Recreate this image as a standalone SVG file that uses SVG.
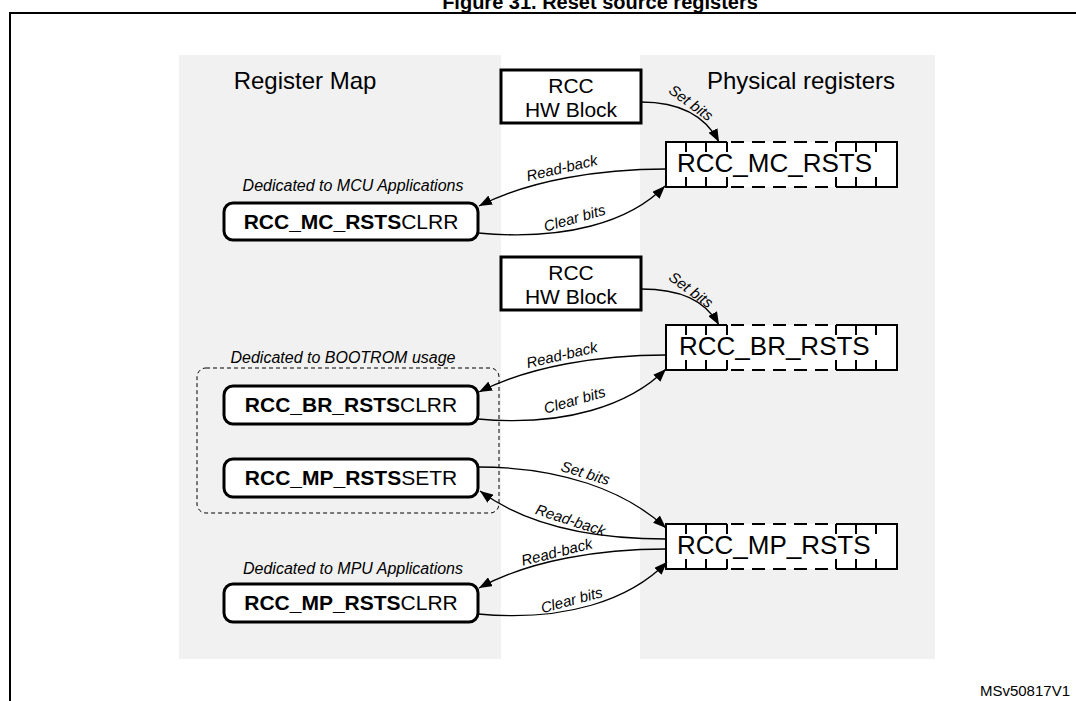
<svg xmlns="http://www.w3.org/2000/svg" width="1076" height="701" viewBox="0 0 1076 701">
<defs>
<style>
text{font-family:"Liberation Sans",Arial,Helvetica,sans-serif;fill:#000}
.panel{fill:#f1f1f1}
.hw{fill:#fff;stroke:#000;stroke-width:3}
.rb{fill:#fff;stroke:#000;stroke-width:3}
.reg{fill:#fff;stroke:none}
.regl{fill:none;stroke:#000;stroke-width:2}
.regd{fill:none;stroke:#000;stroke-width:2;stroke-dasharray:13 8}
.con{fill:none;stroke:#000;stroke-width:1.3;marker-end:url(#ah)}
.lbl{font-size:15px;font-style:italic;text-anchor:middle}
.ded{font-size:16px;font-style:italic;text-anchor:middle}
.hwt{font-size:21px;text-anchor:middle}
.regt{font-size:26px}
.rbt{font-size:21px;text-anchor:middle}
.hdr{font-size:24px;text-anchor:middle}
</style>
<marker id="ah" markerUnits="userSpaceOnUse" markerWidth="13" markerHeight="10" refX="13" refY="5" orient="auto">
<path d="M0,0 L13,5 L0,10 z" fill="#000"/>
</marker>
</defs>
<rect width="1076" height="701" fill="#fff"/>
<text x="600" y="9" font-size="20" font-weight="bold" text-anchor="middle">Figure 31. Reset source registers</text>
<path d="M10,701 V13 H1076" fill="none" stroke="#000" stroke-width="2"/>
<rect class="panel" x="179" y="55" width="322" height="604"/>
<rect class="panel" x="640" y="55" width="295" height="604"/>
<text class="hdr" x="305" y="89">Register Map</text>
<text class="hdr" x="801" y="89" font-size="25">Physical registers</text>

<g id="hw1">
<rect class="hw" x="501" y="70" width="140" height="53"/>
<text class="hwt" x="571" y="93">RCC</text>
<text class="hwt" x="571" y="117">HW Block</text>
</g>
<g id="hw2">
<rect class="hw" x="501" y="257" width="140" height="53"/>
<text class="hwt" x="571" y="280">RCC</text>
<text class="hwt" x="571" y="304">HW Block</text>
</g>

<g id="reg-mc">
<rect class="reg" x="666" y="142" width="231" height="45"/>
<path class="regl" d="M727,142 H666 V187 H727 M836,142 H897 V187 H836 M686,142 v10 M706,142 v10 M727,142 v10 M836,142 v10 M856,142 v10 M876,142 v10 M686,187 v-10 M706,187 v-10 M727,187 v-10 M836,187 v-10 M856,187 v-10 M876,187 v-10"/>
<path class="regd" d="M731,142 H836 M731,187 H836"/>
<text class="regt" x="677" y="172">RCC_MC_RSTS</text>
</g>
<g id="reg-br">
<rect class="reg" x="666" y="325" width="231" height="45"/>
<path class="regl" d="M727,325 H666 V370 H727 M836,325 H897 V370 H836 M686,325 v10 M706,325 v10 M727,325 v10 M836,325 v10 M856,325 v10 M876,325 v10 M686,370 v-10 M706,370 v-10 M727,370 v-10 M836,370 v-10 M856,370 v-10 M876,370 v-10"/>
<path class="regd" d="M731,325 H836 M731,370 H836"/>
<text class="regt" x="679" y="355">RCC_BR_RSTS</text>
</g>
<g id="reg-mp">
<rect class="reg" x="666" y="524" width="231" height="45"/>
<path class="regl" d="M727,524 H666 V569 H727 M836,524 H897 V569 H836 M686,524 v10 M706,524 v10 M727,524 v10 M836,524 v10 M856,524 v10 M876,524 v10 M686,569 v-10 M706,569 v-10 M727,569 v-10 M836,569 v-10 M856,569 v-10 M876,569 v-10"/>
<path class="regd" d="M731,524 H836 M731,569 H836"/>
<text class="regt" x="677" y="554">RCC_MP_RSTS</text>
</g>

<g id="bootrom-group">
<rect x="197" y="368" width="302" height="145" rx="9" fill="none" stroke="#000" stroke-width="1" stroke-dasharray="4 3"/>
<text class="ded" x="343" y="363">Dedicated to BOOTROM usage</text>
</g>

<g id="mc-clrr">
<text class="ded" x="353" y="191">Dedicated to MCU Applications</text>
<rect class="rb" x="224" y="203" width="254" height="37" rx="9"/>
<text class="rbt" x="351" y="229"><tspan font-weight="bold">RCC_MC_RSTS</tspan>CLRR</text>
</g>
<g id="br-clrr">
<rect class="rb" x="224" y="386" width="254" height="38" rx="9"/>
<text class="rbt" x="351" y="412"><tspan font-weight="bold">RCC_BR_RSTS</tspan>CLRR</text>
</g>
<g id="mp-setr">
<rect class="rb" x="224" y="459" width="254" height="38" rx="9"/>
<text class="rbt" x="351" y="485"><tspan font-weight="bold">RCC_MP_RSTS</tspan>SETR</text>
</g>
<g id="mp-clrr">
<text class="ded" x="353" y="574">Dedicated to MPU Applications</text>
<rect class="rb" x="224" y="584" width="254" height="38" rx="9"/>
<text class="rbt" x="351" y="610"><tspan font-weight="bold">RCC_MP_RSTS</tspan>CLRR</text>
</g>

<g id="connectors">
<path class="con" d="M641,102 C680,102 705,115 719,142"/>
<path class="con" d="M666,169 C600,169 530,180 479,206"/>
<path class="con" d="M478,233 C565,241 630,222 665,186"/>
<path class="con" d="M641,289 C680,289 705,300 719,325"/>
<path class="con" d="M666,355 C600,355 530,366 479,392"/>
<path class="con" d="M478,419 C565,427 630,405 666,369"/>
<path class="con" d="M478,467 C560,467 625,490 666,528"/>
<path class="con" d="M666,539 C600,539 530,528 480,491"/>
<path class="con" d="M666,549 C600,549 530,560 479,588"/>
<path class="con" d="M478,614 C565,622 630,600 667,562"/>
<text class="lbl" transform="translate(688,107) rotate(36)">Set bits</text>
<text class="lbl" transform="translate(563,173) rotate(-13)">Read-back</text>
<text class="lbl" transform="translate(576,223) rotate(-16)">Clear bits</text>
<text class="lbl" transform="translate(688,294) rotate(36)">Set bits</text>
<text class="lbl" transform="translate(563,360) rotate(-13)">Read-back</text>
<text class="lbl" transform="translate(576,405) rotate(-16)">Clear bits</text>
<text class="lbl" transform="translate(584,478) rotate(17)">Set bits</text>
<text class="lbl" transform="translate(569,525) rotate(18)">Read-back</text>
<text class="lbl" transform="translate(558,557) rotate(-14)">Read-back</text>
<text class="lbl" transform="translate(573,605) rotate(-15)">Clear bits</text>
</g>
<text x="1070" y="696" font-size="15" text-anchor="end">MSv50817V1</text>
</svg>
